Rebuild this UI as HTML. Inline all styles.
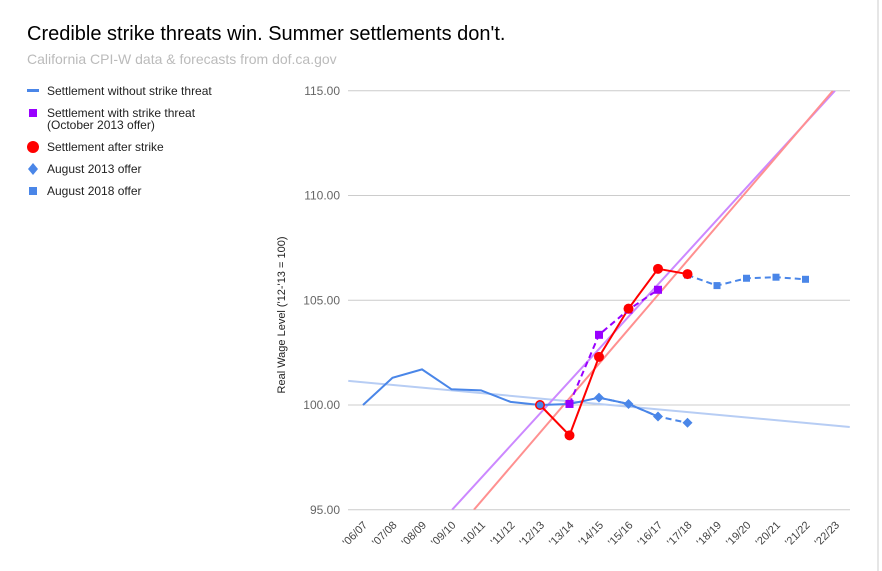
<!DOCTYPE html>
<html><head><meta charset="utf-8">
<style>
body{margin:0;background:#fff;font-family:"Liberation Sans",sans-serif;}
#wrap{position:relative;width:882px;height:571px;overflow:hidden;}
</style></head>
<body>
<div id="wrap">
<svg id="svg" width="882" height="571" xmlns="http://www.w3.org/2000/svg">
<line x1="878" y1="0" x2="878" y2="571" stroke="#ccc" stroke-width="1"/>
<text x="27" y="40" font-size="20" fill="#000">Credible strike threats win. Summer settlements don't.</text>
<text x="27" y="64" font-size="14" fill="#bbb">California CPI-W data &amp; forecasts from dof.ca.gov</text>
<g font-size="12" fill="#222">
<g><rect x="27" y="89" width="12" height="3" fill="#4a86e8"/><text x="47" y="95">Settlement without strike threat</text></g>
<g><rect x="29" y="109" width="8" height="8" fill="#9900ff"/><text x="47" y="117">Settlement with strike threat</text><text x="47" y="129">(October 2013 offer)</text></g>
<g><circle cx="33" cy="147" r="6" fill="#ff0000"/><text x="47" y="151">Settlement after strike</text></g>
<g><path d="M33 163 L38 169 L33 175 L28 169 Z" fill="#4a86e8"/><text x="47" y="173">August 2013 offer</text></g>
<g><rect x="29" y="187" width="8" height="8" fill="#4a86e8"/><text x="47" y="195">August 2018 offer</text></g>
</g>
<text transform="translate(285,315) rotate(-90)" text-anchor="middle" font-size="11" fill="#222">Real Wage Level ('12-'13 = 100)</text>
<g id="grid"></g><g id="marks"></g>
</svg>
</div>
<script>
const categories=["'06/07","'07/08","'08/09","'09/10","'10/11","'11/12","'12/13","'13/14","'14/15","'15/16","'16/17","'17/18","'18/19","'19/20","'20/21","'21/22","'22/23"];
const yTicks=[95,100,105,110,115];
const withoutThreat=[100,101.3,101.7,100.75,100.7,100.15,100,100.05,100.35,100.05,99.45,null,null,null,null,null,null];
const aug2013=[null,null,null,null,null,null,null,null,100.35,100.05,99.45,99.15,null,null,null,null,null];
const aug2018=[null,null,null,null,null,null,null,null,null,null,null,106.2,105.7,106.05,106.1,106.0,null];
const withThreat=[null,null,null,null,null,null,null,100.05,103.35,104.55,105.5,null,null,null,null,null,null];
const afterStrike=[null,null,null,null,null,null,100,98.55,102.3,104.6,106.5,106.25,null,null,null,null,null];
const trendBlue=[[-0.5,101.15],[16.5,98.95]];
const trendPurple=[[3.02,95],[16,115]];
const trendRed=[[3.76,95],[15.93,115]];
const NS="http://www.w3.org/2000/svg";
const x=i=>363+i*29.5;
const y=v=>405-(v-100)*20.95;
function mk(t,a,p){const e=document.createElementNS(NS,t);for(const k in a)e.setAttribute(k,a[k]);(p||document.getElementById('marks')).appendChild(e);return e;}
const grid=document.getElementById('grid');
yTicks.forEach(v=>{
 const l=mk('line',{x1:348,x2:850,y1:y(v),y2:y(v),stroke:'#ccc','stroke-width':1},grid);
 
 
 const t=mk('text',{x:340,y:y(v)+4,'text-anchor':'end','font-size':12,fill:'#666'},grid);
 t.textContent=v.toFixed(2);
 
 
});
categories.forEach((c,i)=>{
 const t=mk('text',{transform:`translate(${x(i)+5},${y(95)+16}) rotate(-45)`,'text-anchor':'end','font-size':11,fill:'#444'},grid);
 t.textContent=c;
 
 
});
const defs=mk('defs',{},document.getElementById('svg'));
const cp=mk('clipPath',{id:'clip'},defs);mk('rect',{x:348,y:y(115),width:502,height:y(95)-y(115)},cp);
function trend(tr,col,name){
 const l=mk('line',{x1:x(tr[0][0]),y1:y(tr[0][1]),x2:x(tr[1][0]),y2:y(tr[1][1]),stroke:col,'stroke-width':2,'clip-path':'url(#clip)'});
 
 
}
trend(trendBlue,'#b7cdf4','trendline-without-threat');
trend(trendPurple,'#cc88ff','trendline-with-threat');
trend(trendRed,'#ff9090','trendline-after-strike');
function line(arr,col,dash,name){
 let d='';arr.forEach((v,i)=>{if(v==null)return;d+=(d?'L':'M')+x(i)+' '+y(v);});
 const p=mk('path',{d:d,fill:'none',stroke:col,'stroke-width':2,'stroke-dasharray':dash||'none'});
 
 
}
function markers(arr,col,shape,name,sz){
 arr.forEach((v,i)=>{if(v==null)return;let e;const cx=x(i),cy=y(v);
  if(shape==='c')e=mk('circle',{cx:cx,cy:cy,r:sz,fill:col});
  else if(shape==='d')e=mk('path',{d:`M${cx} ${cy-sz}L${cx+sz} ${cy}L${cx} ${cy+sz}L${cx-sz} ${cy}Z`,fill:col});
  else e=mk('rect',{x:cx-sz,y:cy-sz,width:2*sz,height:2*sz,fill:col});
  
  
 });
}
line(withoutThreat,'#4a86e8',null,'line-without-threat');
line(aug2013,'#4a86e8','6 4','line-aug-2013');
line(aug2018,'#4a86e8','6 4','line-aug-2018');
line(withThreat,'#9900ff','6 4','line-with-threat');
line(afterStrike,'#ff0000',null,'line-after-strike');
markers(aug2013,'#4a86e8','d','marker-aug-2013',5);
markers(aug2018,'#4a86e8','s','marker-aug-2018',3.5);
markers(withThreat,'#9900ff','s','marker-with-threat',4);
markers(afterStrike,'#ff0000','c','marker-after-strike',5);
const inner=mk('circle',{cx:x(6),cy:y(withoutThreat[6]),r:3.5,fill:'#4a86e8'});


</script>
</body></html>
